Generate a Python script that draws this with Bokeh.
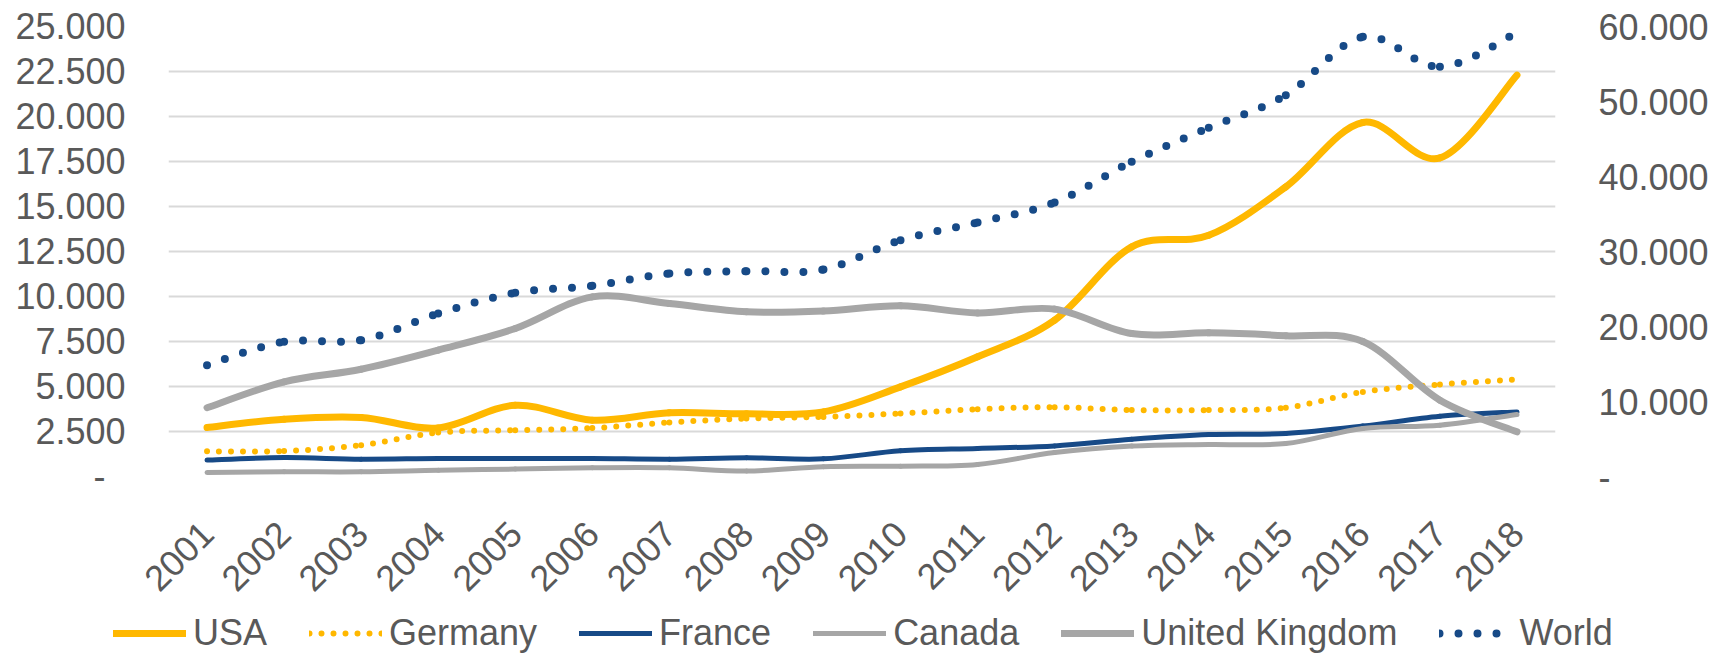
from math import pi
from bokeh.plotting import figure
from bokeh.layouts import column
from bokeh.models import (FactorRange, Range1d, LinearAxis, FixedTicker, Legend,
                          LegendItem, ColumnDataSource)
from bokeh.embed import file_html
from bokeh.resources import INLINE

# ---------------- data ----------------
years = [str(y) for y in range(2001, 2019)]
usa = [2720, 3180, 3280, 2700, 3960, 3130, 3540, 3480, 3590, 4980, 6650, 8690,
       12760, 13400, 16090, 19670, 17700, 22300]
germany = [1400, 1410, 1740, 2440, 2570, 2690, 3000, 3220, 3310, 3500, 3740, 3850,
           3690, 3690, 3820, 4700, 5110, 5390]
france = [910, 1050, 960, 1000, 1000, 1000, 960, 1040, 980, 1430, 1560, 1700,
          2070, 2330, 2390, 2800, 3350, 3590]
canada = [220, 260, 260, 350, 410, 480, 480, 300, 540, 570, 670, 1330,
          1690, 1780, 1830, 2670, 2850, 3440]
uk = [3820, 5260, 5960, 7020, 8220, 9980, 9610, 9150, 9190, 9480, 9090, 9300,
      7940, 7980, 7820, 7500, 4240, 2480]
world = [14840, 17960, 18180, 21730, 24490, 25420, 27070, 27380, 27600, 31510,
         33870, 36530, 41960, 46490, 50840, 58620, 54620, 59160]

series_names = ["USA", "Germany", "France", "Canada", "United Kingdom", "World"]

left_ticks = [0, 2500, 5000, 7500, 10000, 12500, 15000, 17500, 20000, 22500, 25000]
left_labels = ["-\u00a0\u00a0", "2.500", "5.000", "7.500", "10.000", "12.500", "15.000",
               "17.500", "20.000", "22.500", "25.000"]
right_ticks = [0, 10000, 20000, 30000, 40000, 50000, 60000]
right_labels = ["-", "10.000", "20.000", "30.000", "40.000", "50.000", "60.000"]

FONT = "Liberation Sans"
TXT = "#595959"
GOLD = "#FFB800"
BLUE = "#174A87"
GRAY = "#A6A6A6"

styles = [
    dict(line_color=GOLD, line_width=7),
    dict(line_color=GOLD, line_width=6, line_dash="0 12"),
    dict(line_color=BLUE, line_width=5),
    dict(line_color=GRAY, line_width=5),
    dict(line_color=GRAY, line_width=7),
    dict(line_color=BLUE, line_width=8, line_dash="0 19"),
]


def smooth_source(vals):
    """Bezier segments (Catmull-Rom style, like a spreadsheet 'smoothed line')."""
    n = len(vals)
    xs = [i + 0.5 for i in range(n)]
    d = dict(x0=[], y0=[], x1=[], y1=[], cx0=[], cy0=[], cx1=[], cy1=[])
    for i in range(n - 1):
        pm = max(i - 1, 0)
        pp = min(i + 2, n - 1)
        d["x0"].append(xs[i]); d["y0"].append(vals[i])
        d["x1"].append(xs[i + 1]); d["y1"].append(vals[i + 1])
        d["cx0"].append(xs[i] + (xs[i + 1] - xs[pm]) / 6)
        d["cy0"].append(vals[i] + (vals[i + 1] - vals[pm]) / 6)
        d["cx1"].append(xs[i + 1] - (xs[pp] - xs[i]) / 6)
        d["cy1"].append(vals[i + 1] - (vals[pp] - vals[i]) / 6)
    return ColumnDataSource(d)


p = figure(width=1714, height=610, output_backend="svg", toolbar_location=None,
           x_range=FactorRange(*years), y_range=Range1d(0, 25000),
           min_border_left=168, min_border_right=159, min_border_top=26,
           min_border_bottom=134)
p.frame_align = False
p.extra_y_ranges = {"right": Range1d(0, 60000)}
p.outline_line_color = None
p.background_fill_color = "white"
p.border_fill_color = "white"

p.xaxis.major_label_orientation = pi / 4
p.xaxis.major_label_standoff = 51
for ax in [p.xaxis[0], p.yaxis[0]]:
    ax.axis_line_color = None
    ax.major_tick_line_color = None
    ax.minor_tick_line_color = None
    ax.major_tick_out = 0
    ax.major_tick_in = 0
    ax.major_label_text_font = FONT
    ax.major_label_text_font_size = "36px"
    ax.major_label_text_color = TXT

p.yaxis.ticker = FixedTicker(ticks=left_ticks)
p.yaxis.major_label_overrides = dict(zip(left_ticks, left_labels))
p.yaxis.major_label_standoff = 43

rax = LinearAxis(y_range_name="right", ticker=FixedTicker(ticks=right_ticks))
rax.major_label_overrides = dict(zip(right_ticks, right_labels))
rax.axis_line_color = None
rax.major_tick_line_color = None
rax.minor_tick_line_color = None
rax.major_tick_out = 0
rax.major_tick_in = 0
rax.major_label_standoff = 43
rax.major_label_text_font = FONT
rax.major_label_text_font_size = "36px"
rax.major_label_text_color = TXT
p.add_layout(rax, "right")

p.xgrid.grid_line_color = None
p.ygrid.grid_line_color = "#D9D9D9"
p.ygrid.grid_line_width = 2
p.ygrid.ticker = FixedTicker(ticks=left_ticks)

bz = dict(x0="x0", y0="y0", x1="x1", y1="y1", cx0="cx0", cy0="cy0", cx1="cx1", cy1="cy1")
all_vals = [usa, germany, france, canada, uk, world]
sources = [smooth_source(v) for v in all_vals]
for src, st, name in zip(sources, styles, series_names):
    extra = dict(y_range_name="right") if name == "World" else {}
    p.bezier(source=src, line_cap="round", **st, **bz, **extra)

# ---------------- legend strip (its plot area shows none of the data) ----------------
lg = figure(width=1714, height=44, output_backend="svg", toolbar_location=None,
            x_range=Range1d(0, 1), y_range=Range1d(-2, -1),
            x_axis_type=None, y_axis_type=None,
            min_border_left=0, min_border_right=0, min_border_top=0,
            min_border_bottom=0)
lg.frame_align = False
lg.outline_line_color = None
lg.xgrid.grid_line_color = None
lg.ygrid.grid_line_color = None
lg.background_fill_color = "white"
lg.border_fill_color = "white"

items = []
for src, st, name in zip(sources, styles, series_names):
    r = lg.bezier(source=src, line_cap="round", **st, **bz)
    items.append(LegendItem(label=name, renderers=[r]))

legend = Legend(items=items, orientation="horizontal", location=(113, 0))
legend.background_fill_alpha = 0
legend.border_line_color = None
legend.padding = 0
legend.margin = 0
legend.spacing = 42
legend.label_standoff = 7
legend.glyph_width = 73
legend.glyph_height = 20
legend.label_text_font = FONT
legend.label_text_font_size = "36px"
legend.label_text_color = TXT
lg.add_layout(legend, "center")

layout = column(p, lg, spacing=0)
open("out.html", "w").write(file_html(layout, INLINE))
